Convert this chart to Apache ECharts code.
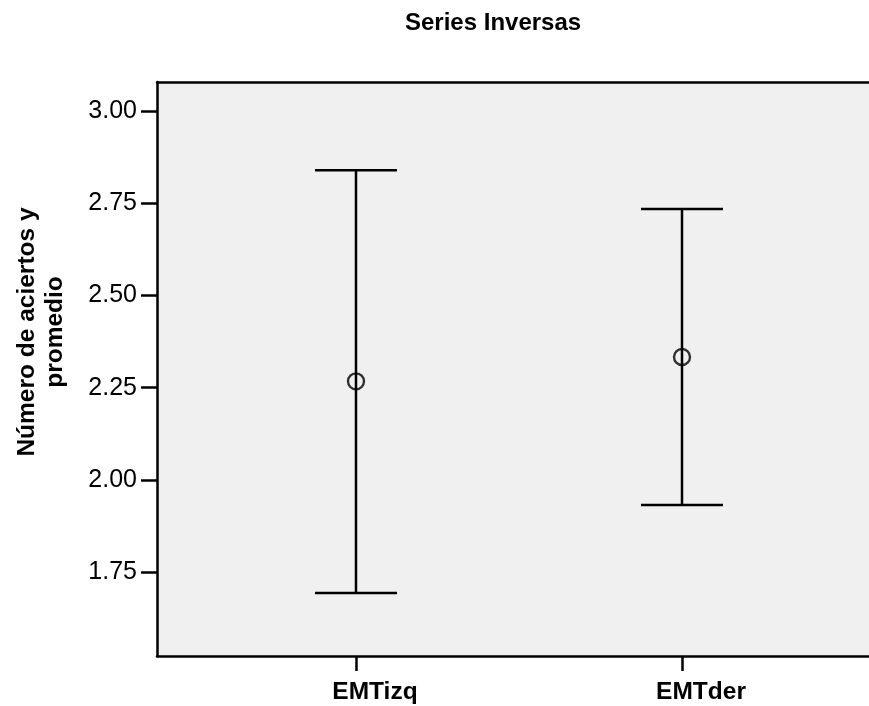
<!DOCTYPE html>
<html>
<head>
<meta charset="utf-8">
<script src="https://cdn.jsdelivr.net/npm/echarts@6/dist/echarts.min.js"></script>
<style>html,body{margin:0;padding:0;background:#fff}#c{width:869px;height:706px}</style>
</head>
<body>
<div id="c"></div>
<script>
var categories = ['EMTizq', 'EMTder'];
var means = [2.267, 2.333];
var upper = [2.839, 2.734];
var lower = [1.694, 1.932];
var yTicks = [1.75, 2.00, 2.25, 2.50, 2.75, 3.00];
var titleText = 'Series Inversas';
var yName = 'Número de aciertos y\npromedio';

var FONT = 'Liberation Sans, Arial, sans-serif';
var xPos = categories.map(function (c, i) { return i + 1; });
var barData = categories.map(function (c, i) { return [xPos[i], lower[i], upper[i]]; });
var meanData = categories.map(function (c, i) { return [xPos[i], means[i]]; });

var chart = echarts.init(document.getElementById('c'));
chart.setOption({
  animation: false,
  backgroundColor: '#ffffff',
  title: {
    text: titleText, left: 405, top: 11, padding: 0,
    textStyle: { fontFamily: FONT, fontSize: 24, fontWeight: 'bold', color: '#000' }
  },
  grid: {
    left: 157, right: 0, top: 82, bottom: 50,
    show: true, backgroundColor: '#f0f0f0', borderWidth: 0
  },
  graphic: [{
    type: 'text', x: 41, y: 332, rotation: Math.PI / 2,
    style: {
      text: yName, align: 'center', verticalAlign: 'middle',
      fontFamily: FONT, fontSize: 24.5, fontWeight: 'bold', fill: '#000', lineHeight: 28
    }
  }],
  xAxis: [{
    type: 'value', min: 0.3896, max: 2.5736, position: 'bottom',
    splitLine: { show: false },
    axisLine: { show: true, onZero: false, lineStyle: { color: '#000', width: 2.5 } },
    axisTick: { show: true, length: 15, customValues: xPos, lineStyle: { color: '#000', width: 2.5 } },
    axisLabel: {
      customValues: xPos, margin: 24, padding: [0, 0, 0, 38],
      fontFamily: FONT, fontSize: 24.5, fontWeight: 'bold', color: '#000',
      formatter: function (v) { return categories[Math.round(v) - 1] || ''; }
    }
  }, {
    type: 'value', min: 0.3896, max: 2.5736, position: 'top',
    splitLine: { show: false },
    axisLine: { show: true, onZero: false, lineStyle: { color: '#000', width: 2.5 } },
    axisTick: { show: false }, axisLabel: { show: false }
  }],
  yAxis: {
    type: 'value', min: 1.523, max: 3.078,
    splitLine: { show: false },
    axisLine: { show: true, onZero: false, lineStyle: { color: '#000', width: 2.5 } },
    axisTick: { show: true, length: 16, customValues: yTicks, lineStyle: { color: '#000', width: 2.5 } },
    axisLabel: {
      customValues: yTicks, margin: 20,
      fontFamily: FONT, fontSize: 25, color: '#000',
      formatter: function (v) { return v.toFixed(2); }
    }
  },
  series: [{
    type: 'custom',
    data: barData,
    renderItem: function (params, api) {
      var x = api.value(0);
      var lo = api.coord([x, api.value(1)]);
      var hi = api.coord([x, api.value(2)]);
      var half = 41;
      var st = { stroke: '#000', lineWidth: 2.5 };
      return {
        type: 'group',
        children: [
          { type: 'line', shape: { x1: lo[0], y1: lo[1], x2: hi[0], y2: hi[1] }, style: st },
          { type: 'line', shape: { x1: hi[0] - half, y1: hi[1], x2: hi[0] + half, y2: hi[1] }, style: st },
          { type: 'line', shape: { x1: lo[0] - half, y1: lo[1], x2: lo[0] + half, y2: lo[1] }, style: st }
        ]
      };
    },
    z: 2
  }, {
    type: 'scatter',
    data: meanData,
    symbol: 'circle', symbolSize: 16,
    itemStyle: { color: 'rgba(0,0,0,0)', borderColor: '#000', borderWidth: 2.4 },
    z: 3
  }]
});
</script>
</body>
</html>
